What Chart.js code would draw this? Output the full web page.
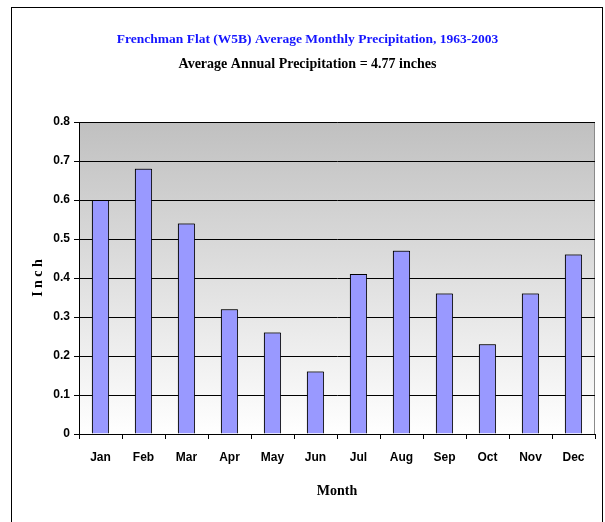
<!DOCTYPE html>
<html>
<head>
<meta charset="utf-8">
<script src="https://cdn.jsdelivr.net/npm/chart.js@4.4.1/dist/chart.umd.min.js"></script>
<style>
  html, body { margin: 0; padding: 0; background: #fff; }
  #wrap { width: 605px; height: 522px; }
</style>
</head>
<body>
<div id="wrap"><canvas id="precipChart" width="605" height="522"></canvas></div>
<script>
// monthly averages (inches)
const months = ['Jan', 'Feb', 'Mar', 'Apr', 'May', 'Jun', 'Jul', 'Aug', 'Sep', 'Oct', 'Nov', 'Dec'];
const precipInches = [0.60, 0.68, 0.54, 0.32, 0.26, 0.16, 0.41, 0.47, 0.36, 0.23, 0.36, 0.46];
const yTicks = [0, 0.1, 0.2, 0.3, 0.4, 0.5, 0.6, 0.7, 0.8];

const titleText = 'Frenchman Flat (W5B) Average Monthly Precipitation, 1963-2003';
const subtitleText = 'Average Annual Precipitation = 4.77 inches';

const serif = "'Liberation Serif', 'DejaVu Serif', serif";
const narrow = "'Liberation Sans Narrow', 'Liberation Sans', Arial, sans-serif";

// grey-to-white plot background, outer frame, bar shadow
const backdrop = {
    id: 'backdrop',
    beforeDraw(chart) {
        const { ctx, chartArea: a } = chart;
        ctx.save();
        ctx.fillStyle = '#fff';
        ctx.fillRect(0, 0, chart.width, chart.height);
        const g = ctx.createLinearGradient(0, a.top, 0, a.bottom);
        g.addColorStop(0, '#c0c0c0');
        g.addColorStop(1, '#ffffff');
        ctx.fillStyle = g;
        ctx.fillRect(a.left, a.top, a.right - a.left, a.bottom - a.top);
        ctx.strokeStyle = '#8a8a8a';
        ctx.lineWidth = 1;
        ctx.beginPath();
        ctx.moveTo(a.left, a.top + 0.5);
        ctx.lineTo(a.right - 0.5, a.top + 0.5);
        ctx.lineTo(a.right - 0.5, a.bottom);
        ctx.stroke();
        // outer frame
        ctx.strokeStyle = '#000';
        ctx.strokeRect(11.5, 7.5, 591, 530);
        ctx.restore();
    },
    beforeDatasetsDraw(chart) {
        const ctx = chart.ctx;
        ctx.save();
        ctx.shadowColor = 'rgba(0,0,0,0.45)';
        ctx.shadowOffsetX = -1;
        ctx.shadowOffsetY = -1;
    },
    afterDatasetsDraw(chart) {
        chart.ctx.restore();
    }
};

const ctx = document.getElementById('precipChart').getContext('2d');
const precipChart = new Chart(ctx, {
    type: 'bar',
    data: {
        labels: months,
        datasets: [{
            label: 'Precipitation',
            data: precipInches,
            backgroundColor: '#9999ff',
            borderColor: '#000',
            borderWidth: 1,
            barPercentage: 0.4,
            categoryPercentage: 1.0
        }]
    },
    options: {
        responsive: false,
        animation: false,
        layout: { padding: { left: 20, right: 10, top: 0, bottom: 0 } },
        plugins: {
            legend: { display: false },
            tooltip: { enabled: false },
            title: {
                display: true,
                text: titleText,
                color: '#1515ff',
                font: { family: serif, size: 13.5, weight: 'bold' },
                padding: { top: 31, bottom: 9 }
            },
            subtitle: {
                display: true,
                text: subtitleText,
                color: '#000',
                font: { family: serif, size: 14, weight: 'bold' },
                padding: { top: 0, bottom: 49 }
            }
        },
        scales: {
            x: {
                afterFit(scale) { scale.height = 88; },
                grid: {
                    drawOnChartArea: false,
                    offset: true,
                    tickLength: 5,
                    tickColor: '#000'
                },
                border: { color: '#000' },
                ticks: {
                    color: '#000',
                    padding: 11,
                    font: { family: narrow, size: 12, weight: 'bold' }
                },
                title: {
                    display: true,
                    text: 'Month',
                    color: '#000',
                    font: { family: serif, size: 14, weight: 'bold' },
                    padding: { top: 10, bottom: 22 }
                }
            },
            y: {
                min: 0,
                max: 0.8,
                afterFit(scale) { scale.width = 59; },
                afterBuildTicks(scale) { scale.ticks = yTicks.map(v => ({ value: v })); },
                grid: {
                    color: '#000',
                    lineWidth: 1,
                    tickLength: 5,
                    tickColor: '#000'
                },
                border: { color: '#000' },
                ticks: {
                    color: '#000',
                    padding: 4,
                    font: { family: narrow, size: 12, weight: 'bold' },
                    callback: v => String(+v.toFixed(1))
                },
                title: {
                    display: true,
                    text: 'I n c h',
                    color: '#000',
                    font: { family: serif, size: 14, weight: 'bold' },
                    padding: { top: 10, bottom: 0 }
                }
            }
        }
    },
    plugins: [backdrop]
});
</script>
</body>
</html>
